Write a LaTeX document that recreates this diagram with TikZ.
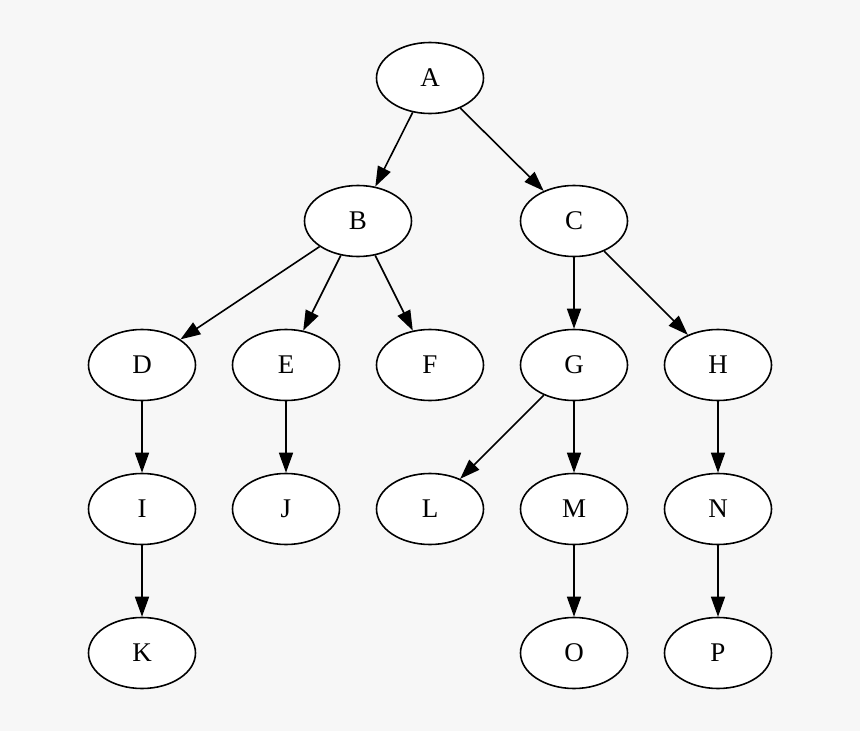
\documentclass[tikz,border=0pt]{standalone}
\usepackage{fontspec}
\setmainfont{Liberation Serif}
\usetikzlibrary{shapes.geometric,arrows.meta}
\begin{document}
\begin{tikzpicture}[x=1pt,y=-1pt,
  vnode/.style={ellipse,draw=black,line width=1.6pt,fill=white,minimum width=107pt,minimum height=71pt,inner sep=0pt,font=\fontsize{27}{30}\selectfont},
  edge/.style={draw=black,line width=1.6pt,-{Triangle[length=20pt,width=14pt]}}]
\fill[fill={rgb,255:red,247;green,247;blue,247}] (0,0) rectangle (860,731);
\useasboundingbox (0,0) rectangle (860,731);
\node[vnode] (A) at (430,78) {A};
\node[vnode] (B) at (358,221) {B};
\node[vnode] (C) at (574,221) {C};
\node[vnode] (D) at (142,365) {D};
\node[vnode] (E) at (286,365) {E};
\node[vnode] (F) at (430,365) {F};
\node[vnode] (G) at (574,365) {G};
\node[vnode] (H) at (718,365) {H};
\node[vnode] (I) at (142,509) {I};
\node[vnode] (J) at (286,509) {J};
\node[vnode] (L) at (430,509) {L};
\node[vnode] (M) at (574,509) {M};
\node[vnode] (N) at (718,509) {N};
\node[vnode] (K) at (142,653) {K};
\node[vnode] (O) at (574,653) {O};
\node[vnode] (P) at (718,653) {P};
\draw[edge] (A) -- (B);
\draw[edge] (A) -- (C);
\draw[edge] (B) -- (D);
\draw[edge] (B) -- (E);
\draw[edge] (B) -- (F);
\draw[edge] (C) -- (G);
\draw[edge] (C) -- (H);
\draw[edge] (D) -- (I);
\draw[edge] (E) -- (J);
\draw[edge] (G) -- (L);
\draw[edge] (G) -- (M);
\draw[edge] (H) -- (N);
\draw[edge] (I) -- (K);
\draw[edge] (M) -- (O);
\draw[edge] (N) -- (P);
\end{tikzpicture}
\end{document}
